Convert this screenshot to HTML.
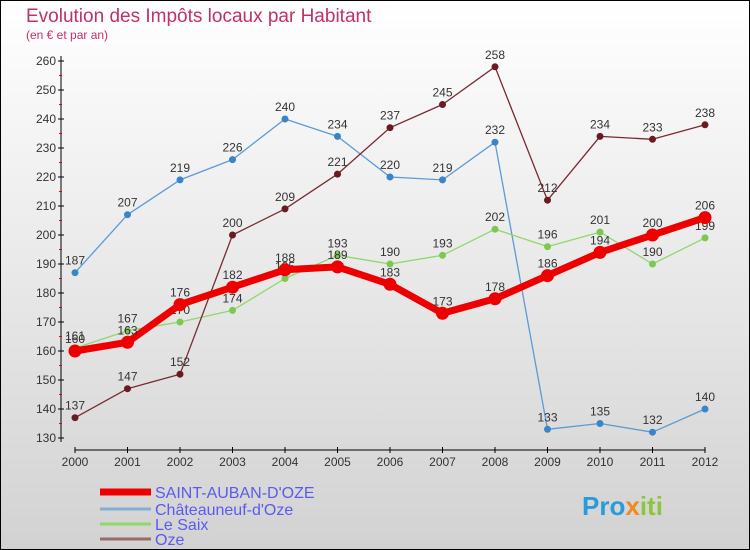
<!DOCTYPE html>
<html><head><meta charset="utf-8"><style>
html,body{margin:0;padding:0}
body{width:750px;height:550px;overflow:hidden;font-family:"Liberation Sans",sans-serif}
svg{display:block}
</style></head><body>
<svg id="chart" width="750" height="550" xmlns="http://www.w3.org/2000/svg">
<defs><linearGradient id="bg" x1="0" y1="0" x2="0" y2="1"><stop offset="0" stop-color="#ffffff"/><stop offset="1" stop-color="#d2d2d2"/></linearGradient></defs>
<rect x="0.5" y="0.5" width="749" height="549" fill="url(#bg)" stroke="#000"/>
<text x="26" y="22" font-size="19" fill="#c0306a">Evolution des Impôts locaux par Habitant</text>
<text x="26" y="39" font-size="12" fill="#c0306a">(en € et par an)</text>
<g id="axes"></g>
<g id="series"></g>
<g id="legend"></g>
<text x="582" y="515" font-size="26" font-weight="bold" fill="#2a9ad8">Pro<tspan fill="#f08a1c">x</tspan><tspan fill="#8cc63f">iti</tspan></text>
</svg>
<script>
const years=[2000,2001,2002,2003,2004,2005,2006,2007,2008,2009,2010,2011,2012];
const yTicks=[130,140,150,160,170,180,190,200,210,220,230,240,250,260];
const seriesNames=["SAINT-AUBAN-D'OZE","Châteauneuf-d'Oze","Le Saix","Oze"];
const saintAuban=[160,163,176,182,188,189,183,173,178,186,194,200,206];
const chateauneuf=[187,207,219,226,240,234,220,219,232,133,135,132,140];
const leSaix=[161,167,170,174,185,193,190,193,202,196,201,190,199];
const oze=[137,147,152,200,209,221,237,245,258,212,234,233,238];

const NS="http://www.w3.org/2000/svg";
function xs(i){return 75+i*52.5;}
function ys(v){return 61+(260-v)*2.9;}
function mk(tag,attrs,parent){const e=document.createElementNS(NS,tag);for(const k in attrs)e.setAttribute(k,attrs[k]);parent.appendChild(e);return e;}
const axes=document.getElementById('axes');
let a=mk('line',{x1:61,y1:56,x2:61,y2:442,stroke:'#000'},axes);


a=mk('line',{x1:75,y1:450,x2:705,y2:450,stroke:'#000'},axes);


yTicks.forEach((v,i)=>{
  const y=ys(v);
  mk('line',{x1:58,y1:y,x2:64,y2:y,stroke:'#000'},axes);
  if(i<yTicks.length-1){mk('line',{x1:59,y1:y-14.5,x2:62,y2:y-14.5,stroke:'#e00'},axes);}
  const t=mk('text',{x:56,y:y+4,'font-size':12,'text-anchor':'end',fill:'#333'},axes);
  t.textContent=v;
  
  
});
years.forEach((yr,i)=>{
  const x=xs(i);
  mk('line',{x1:x,y1:447,x2:x,y2:453,stroke:'#000'},axes);
  const t=mk('text',{x:x,y:466,'font-size':12,'text-anchor':'middle',fill:'#333'},axes);
  t.textContent=yr;
  
  
});
const sg=document.getElementById('series');
const defs=[
 {d:chateauneuf,c:'#5b9bd5',w:1.3,r:3.5,mc:'#3a85c8',n:'chateauneuf'},
 {d:leSaix,c:'#8fd86a',w:1.3,r:3.5,mc:'#7cc850',n:'le-saix'},
 {d:oze,c:'#7a2a30',w:1.3,r:3.5,mc:'#6a1a20',n:'oze'},
 {d:saintAuban,c:'#ee0000',w:7,r:6.5,mc:'#ee0000',n:'saint-auban'}
];
defs.forEach(s=>{
  const g=mk('g',{},sg);
  
  
  const p=mk('polyline',{points:s.d.map((v,i)=>xs(i)+','+ys(v)).join(' '),fill:'none',stroke:s.c,'stroke-width':s.w,'stroke-linejoin':'round'},g);
  
  
  s.d.forEach((v,i)=>{
    const c=mk('circle',{cx:xs(i),cy:ys(v),r:s.r,fill:s.mc},g);
    
    
    const t=mk('text',{x:xs(i),y:ys(v)-8,'font-size':12,'text-anchor':'middle',fill:'#333'},g);
    t.textContent=v;
    
    
  });
});
const lg=document.getElementById('legend');
const lcols=['#ee0000','#7fb0d8','#8fd86a','#9a6a6a'];
const lw=[7,3,3,3];
const ly=[492,509,524,539];
seriesNames.forEach((n,i)=>{
  const g=mk('g',{},lg);
  
  
  mk('line',{x1:100,y1:ly[i],x2:151,y2:ly[i],stroke:lcols[i],'stroke-width':lw[i]},g);
  const t=mk('text',{x:155,y:ly[i]+6,'font-size':16,fill:'#5a5af0'},g);
  t.textContent=n;
});
</script>
</body></html>
